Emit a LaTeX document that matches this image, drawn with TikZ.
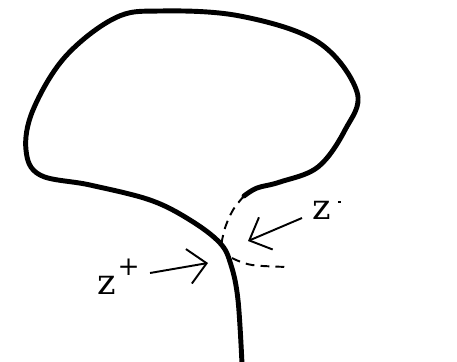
\documentclass[tikz,border=0pt]{standalone}
\usepackage{fontspec}
\setmainfont{DejaVu Serif}
\usetikzlibrary{arrows.meta}
\tikzset{
  loopline/.style={line width=2.8pt, line cap=round, line join=round},
  cutline/.style={line width=1.1pt, dash pattern=on 5pt off 3.5pt},
  pointer/.style={line width=1.1pt, -{Straight Barb[length=3.6mm, width=7mm, line width=1.1pt]}},
  zlabel/.style={font=\fontsize{20}{24}\selectfont, inner sep=0pt, anchor=base west}
}
\begin{document}
\begin{tikzpicture}[x=0.02cm, y=-0.02cm]
  \useasboundingbox (0,0) rectangle (457,362);
  % the loop
  \draw[loopline] plot[smooth, tension=0.6] coordinates {(242,364) (238,300) (231,265) (220,243) (190,220) (150,200) (90,185) (40,175) (26,150) (33,110) (65,57) (115,18) (160,11) (240,16) (318,42) (357,92) (345,130) (318,167) (280,182) (257,188) (244,196)};
  % dashed branches
  \draw[cutline] plot[smooth, tension=0.6] coordinates {(244,196) (233,210) (225,228) (221,246)};
  \draw[cutline] plot[smooth, tension=0.6] coordinates {(232,258) (252,265) (290,267)};
  % labels and arrows
  \node[zlabel] (zminus) at (312,219) {z\hspace{4pt}\raisebox{9pt}{\rule{1.8pt}{1.1pt}}};
  \node[zlabel] (zplus) at (97,294) {z\hspace{1pt}\raisebox{10.5pt}{\fontsize{15}{15}\selectfont +}};
  \coordinate (tipminus) at (248,241);
  \coordinate (tipplus) at (208,263);
  \draw[pointer] ([xshift=-0.2cm, yshift=0.02cm]zminus.base west) -- (tipminus);
  \draw[pointer] ([xshift=0.2cm, yshift=0.42cm]zplus.base east) -- (tipplus);
\end{tikzpicture}
\end{document}
